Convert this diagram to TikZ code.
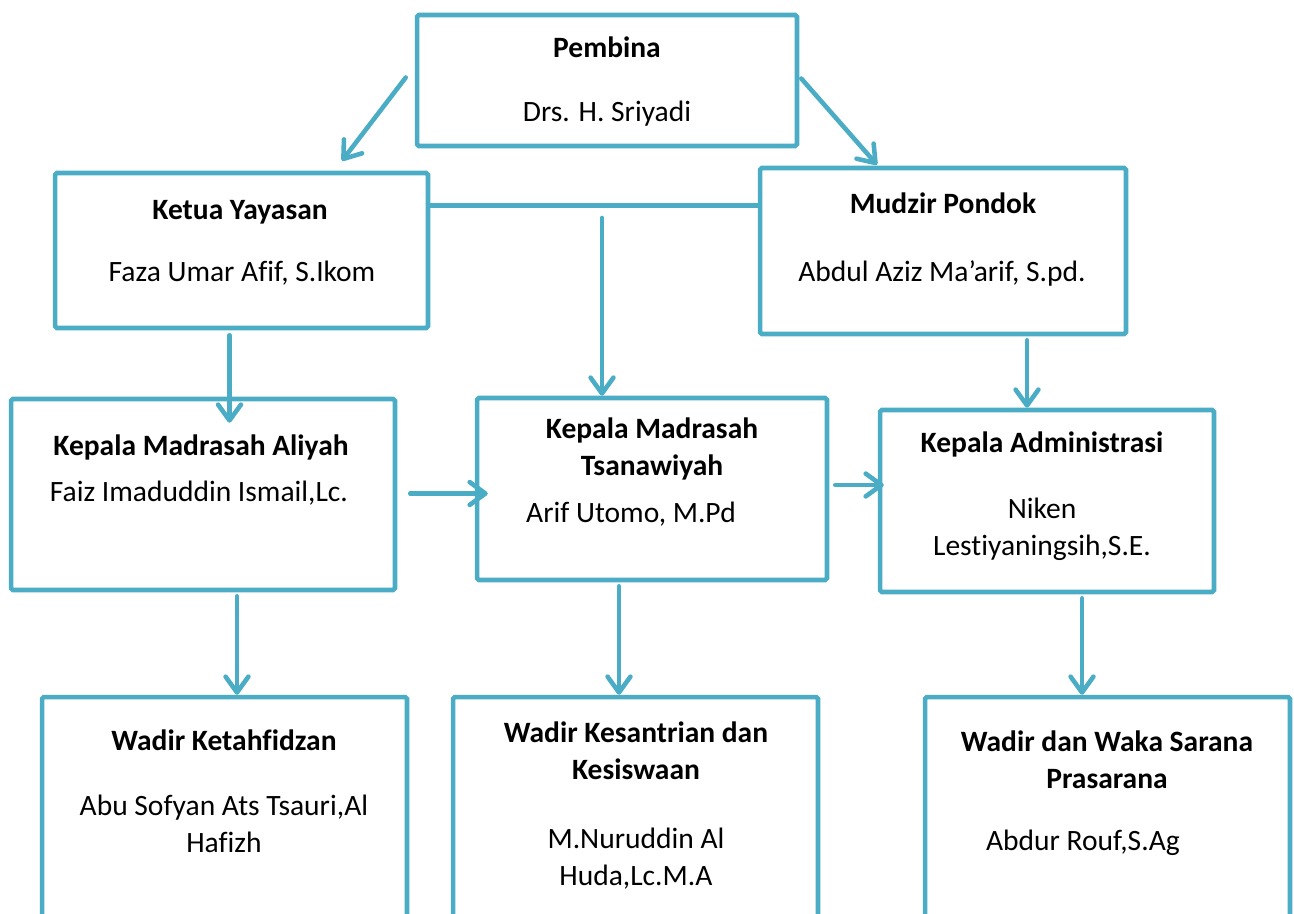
\documentclass[tikz,border=0pt]{standalone}
\usepackage{fontspec}
\setmainfont{Carlito}[Ligatures=NoCommon]
\usepackage{tikz}
\usetikzlibrary{arrows.meta,calc,positioning}
\definecolor{boxblue}{HTML}{4BACC6}

\begin{document}
\begin{tikzpicture}[x=0.02cm,y=-0.02cm,
    box/.style={draw=boxblue, line width=2.6pt, rounded corners=1pt, inner sep=0pt},
    head/.style={font=\bfseries\fontsize{16.8}{21}\selectfont, align=center, inner sep=0pt},
    who/.style={font=\fontsize{16.8}{21}\selectfont, align=center, inner sep=0pt},
    link/.style={boxblue, line width=2.6pt, line cap=round},
    arr/.style={link, -{Straight Barb[length=9pt,width=13pt,round]}}]
    \useasboundingbox (0,0) rectangle (1294,913);
    \clip (0,0) rectangle (1294,913);
    % boxes
    \node[box, minimum width=7.6cm, minimum height=2.62cm] (pembina) at (607,80.5) {};
    \node[box, minimum width=7.46cm, minimum height=3.1cm] (ketua) at (241.5,250.5) {};
    \node[box, minimum width=7.32cm, minimum height=3.32cm] (mudzir) at (943,251) {};
    \node[box, minimum width=7.68cm, minimum height=3.82cm] (aliyah) at (203,494.5) {};
    \node[box, minimum width=7.0cm, minimum height=3.64cm] (tsanawiyah) at (652,489) {};
    \node[box, minimum width=6.68cm, minimum height=3.64cm] (admin) at (1047,501) {};
    \node[box, minimum width=7.3cm, minimum height=5.26cm] (tahfidz) at (224.5,828.5) {};
    \node[box, minimum width=7.3cm, minimum height=5.26cm] (santri) at (635.5,828.5) {};
    \node[box, minimum width=7.3cm, minimum height=5.26cm] (sarana) at (1107.5,828.5) {};
    % texts
    \node[head] (pembina-h) at (607,47) {Pembina};
    \node[who] (pembina-n) at (607,114) {Drs. H. Sriyadi};
    \node[head] (ketua-h) at (240,212) {Ketua Yayasan};
    \node[who] (ketua-n) at (242,273) {Faza Umar Afif, S.Ikom};
    \node[head] (mudzir-h) at (943,203) {Mudzir Pondok};
    \node[who] (mudzir-n) at (942,273) {Abdul Aziz Ma’arif, S.pd.};
    \node[head] (aliyah-h) at (201,447) {Kepala Madrasah Aliyah};
    \node[who] (aliyah-n) at (199,493) {Faiz Imaduddin Ismail,Lc.};
    \node[head] (tsanawiyah-h) at (652,449) {Kepala Madrasah\\Tsanawiyah};
    \node[who] (tsanawiyah-n) at (631,514) {Arif Utomo, M.Pd};
    \node[head] (admin-h) at (1042,444) {Kepala Administrasi};
    \node[who] (admin-n) at (1042,529) {Niken\\Lestiyaningsih,S.E.};
    \node[head] (tahfidz-h) at (224,740) {Wadir Ketahfidzan};
    \node[who] (tahfidz-n) at (224,823.5) {Abu Sofyan Ats Tsauri,Al\\Hafizh};
    \node[head] (santri-h) at (636,751) {Wadir Kesantrian dan\\Kesiswaan};
    \node[who] (santri-n) at (636,859) {M.Nuruddin Al\\Huda,Lc.M.A};
    \node[head] (sarana-h) at (1107,759.5) {Wadir dan Waka Sarana\\Prasarana};
    \node[who] (sarana-n) at (1083,843) {Abdur Rouf,S.Ag};
    % connectors
    \draw[arr] ([shift={(-9,-3)}]pembina.west) -- ([shift={(100.5,-10)}]ketua.north);
    \draw[arr] ([shift={(2,-2)}]pembina.east) -- ([shift={(-66,-1)}]mudzir.north);
    \draw[link] ([yshift=-0.7cm]ketua.north east) -- ([yshift=-0.7cm]ketua.north east -| mudzir.west);
    \coordinate (hub) at (602,218);
    \draw[arr] (hub) -- (hub |- tsanawiyah.north);
    \draw[arr] ([shift={(-12,5)}]ketua.south) -- ($(ketua.south |- aliyah.north)+(-12,26)$);
    \draw[arr] ([shift={(84,4)}]mudzir.south) -- ($(mudzir.south |- admin.north)+(84,0)$);
    \draw[arr] ([shift={(13,-1)}]aliyah.east) -- ([shift={(13,-1)}]aliyah.east -| tsanawiyah.west);
    \draw[arr] ([shift={(6,-4)}]tsanawiyah.east) -- ([shift={(6,-4)}]tsanawiyah.east -| admin.west);
    \draw[arr] ([shift={(34,4)}]aliyah.south) -- ($(aliyah.south |- tahfidz.north)+(34,0)$);
    \draw[arr] ([shift={(-33,4)}]tsanawiyah.south) -- ($(tsanawiyah.south |- santri.north)+(-33,0)$);
    \draw[arr] ([shift={(35,4)}]admin.south) -- ($(admin.south |- sarana.north)+(35,0)$);
\end{tikzpicture}
\end{document}
